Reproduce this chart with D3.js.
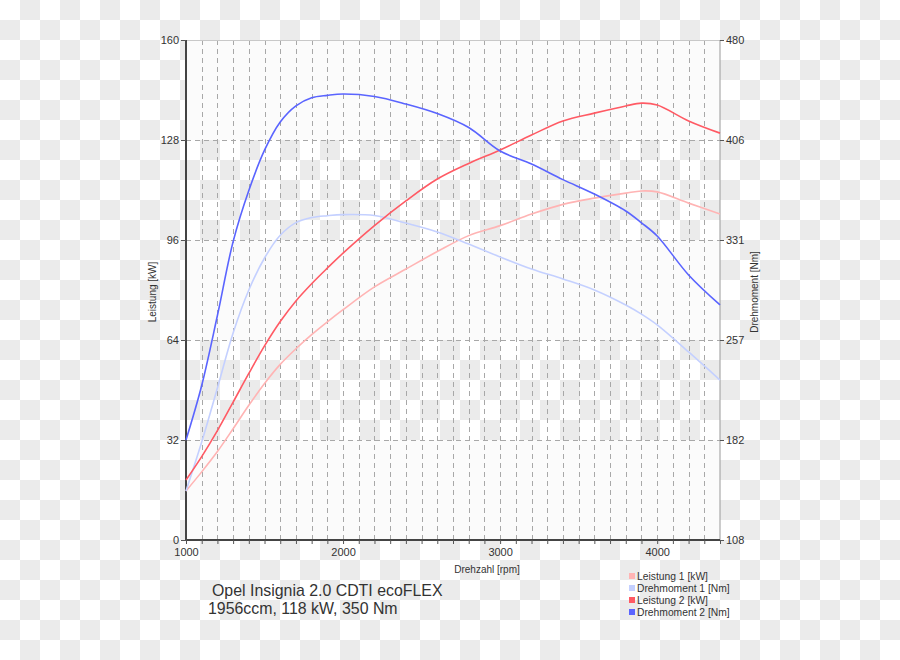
<!DOCTYPE html>
<html><head><meta charset="utf-8">
<script src="https://cdn.jsdelivr.net/npm/d3@7"></script>
<style>body{margin:0;background:#fff}svg{display:block}text{font-family:"Liberation Sans",Arial,sans-serif}</style>
</head><body><svg id="c" width="900" height="660"></svg>
<script>
const rpm         = [1000,1100,1200,1300,1400,1500,1600,1700,1800,1900,2000,2200,2400,2600,2800,3000,3200,3400,3600,3800,3900,4000,4200,4400];
const leistung1   = [15.7,21.8,28.3,35.6,43.1,50.1,56.2,61.2,65.7,69.8,73.7,81.0,86.7,92.3,97.4,100.6,104.3,107.4,109.4,111.0,111.7,111.4,107.8,104.3];
const drehmoment1 = [144.5,180.9,221.1,262,294,317.8,334.7,344.1,347.9,349.3,350.1,349.4,343.8,337.2,328.2,318.6,309.6,302.2,294,282.8,276,268,247.9,227];
const leistung2   = [19.2,26.7,35.0,44.1,53.3,62.1,69.9,76.5,82.0,87.0,91.8,100.6,108.5,115.5,120.5,124.8,129.6,134.1,136.6,138.9,139.8,139.2,134.1,130.2];
const drehmoment2 = [182.4,223,275,330,368,398,419,431,437,438.8,439.8,438,432.4,425.3,414.9,397.4,387.7,376.1,365.4,352.8,344,334.2,305.2,282.9];
const leftTicks = [0,32,64,96,128,160];
const rightTicks = [108,182.4,256.8,331.2,405.6,480];
const xLabelTicks = [1000,2000,3000,4000];
const seriesNames = ["Leistung 1 [kW]","Drehmoment 1 [Nm]","Leistung 2 [kW]","Drehmoment 2 [Nm]"];
const seriesColors = ["#ffb4b4","#c4d0ff","#ff5a64","#5a64ff"];
const titleLines = ["Opel Insignia 2.0 CDTI ecoFLEX","1956ccm, 118 kW, 350 Nm"];

const svg = d3.select("#c");
const L=186,R=720,T=40,B=540;
const x = d3.scaleLinear().domain([1000,4400]).range([L,R]);
const yL = d3.scaleLinear().domain([0,160]).range([B,T]);
const yR = d3.scaleLinear().domain([108,480]).range([B,T]);

// checkerboard background
const defs = svg.append("defs");
const pat = defs.append("pattern").attr("id","chk").attr("patternUnits","userSpaceOnUse").attr("width",40).attr("height",40);
pat.append("rect").attr("width",40).attr("height",40).attr("fill","#fff");
pat.append("rect").attr("x",20).attr("y",0).attr("width",20).attr("height",20).attr("fill","#ebebeb");
pat.append("rect").attr("x",0).attr("y",20).attr("width",20).attr("height",20).attr("fill","#ebebeb");
svg.append("rect").attr("width",900).attr("height",660).attr("fill","url(#chk)");

// opaque plot bands
[[128,160],[64,96],[0,32]].forEach(b=>{
  svg.append("rect").attr("x",L).attr("y",yL(b[1])).attr("width",R-L).attr("height",yL(b[0])-yL(b[1])).attr("fill","#fbfbfb");
});

// grid
const grid = svg.append("g").attr("stroke","#a8a8a8").attr("stroke-width",1).attr("stroke-dasharray","5,4");
d3.range(1100,4400,100).forEach(r=>{
  grid.append("line").attr("x1",Math.round(x(r))+0.5).attr("x2",Math.round(x(r))+0.5).attr("y1",T).attr("y2",B);
});
leftTicks.slice(1,-1).forEach(v=>{
  grid.append("line").attr("x1",L).attr("x2",R).attr("y1",Math.round(yL(v))+0.5).attr("y2",Math.round(yL(v))+0.5);
});

// top border
svg.append("line").attr("x1",L).attr("x2",R).attr("y1",T+0.5).attr("y2",T+0.5).attr("stroke","#c8c8c8");

// axes
const fmt = d3.format(".0f");
const axL = svg.append("g").attr("transform",`translate(${L},0)`)
  .call(d3.axisLeft(yL).tickValues(leftTicks).tickSize(5).tickPadding(2).tickFormat(fmt));
const axR = svg.append("g").attr("transform",`translate(${R},0)`)
  .call(d3.axisRight(yR).tickValues(rightTicks).tickSize(4).tickPadding(2).tickFormat(fmt));
const axB = svg.append("g").attr("transform",`translate(0,${B})`)
  .call(d3.axisBottom(x).tickValues(d3.range(1000,4401,100)).tickSize(4).tickPadding(4)
    .tickFormat(d=>xLabelTicks.includes(d)?fmt(d):""));
[axL,axR,axB].forEach(a=>{
  a.selectAll("text").attr("font-size",11).attr("fill","#333").style("font-family",'"Liberation Sans",Arial,sans-serif');
  a.selectAll(".tick line").attr("stroke","#555");
});
axL.select(".domain").attr("stroke","#444").attr("stroke-width",2).attr("d",`M0,${T}V${B}`);
axB.select(".domain").attr("stroke","#444").attr("stroke-width",2).attr("d",`M${L},0H${R}`);
axR.select(".domain").attr("stroke","#999").attr("stroke-width",1).attr("d",`M0,${T}V${B}`);

// lines
const data = [
  {v:leistung1, s:yL},
  {v:drehmoment1, s:yR},
  {v:leistung2, s:yL},
  {v:drehmoment2, s:yR}
];
data.forEach((d,i)=>{
  const line = d3.line().x((_,j)=>x(rpm[j])).y(v=>d.s(v)).curve(d3.curveCatmullRom.alpha(0.5));
  svg.append("path").attr("d",line(d.v)).attr("fill","none").attr("stroke",seriesColors[i]).attr("stroke-width",1.6);
});

// axis titles
svg.append("text").attr("transform","translate(156,292) rotate(-90)").attr("text-anchor","middle")
  .attr("font-size",10).attr("fill","#333").text("Leistung [kW]");
svg.append("text").attr("transform","translate(758,292) rotate(-90)").attr("text-anchor","middle")
  .attr("font-size",10).attr("fill","#333").text("Drehmoment [Nm]");
svg.append("text").attr("x",487).attr("y",573).attr("text-anchor","middle")
  .attr("font-size",10).attr("fill","#333").text("Drehzahl [rpm]");

// title
svg.append("text").attr("x",212).attr("y",596).attr("font-size",15.9).attr("fill","#333").text(titleLines[0]);
svg.append("text").attr("x",208).attr("y",614).attr("font-size",15.9).attr("fill","#333").text(titleLines[1]);

// legend
const lg = svg.append("g");
seriesNames.forEach((n,i)=>{
  const yy = 576 + i*12;
  lg.append("rect").attr("x",629).attr("y",yy-3).attr("width",6).attr("height",6).attr("fill",seriesColors[i]);
  lg.append("text").attr("x",637).attr("y",yy+3.5).attr("font-size",10.3).attr("fill","#333").text(n);
});
</script></body></html>
